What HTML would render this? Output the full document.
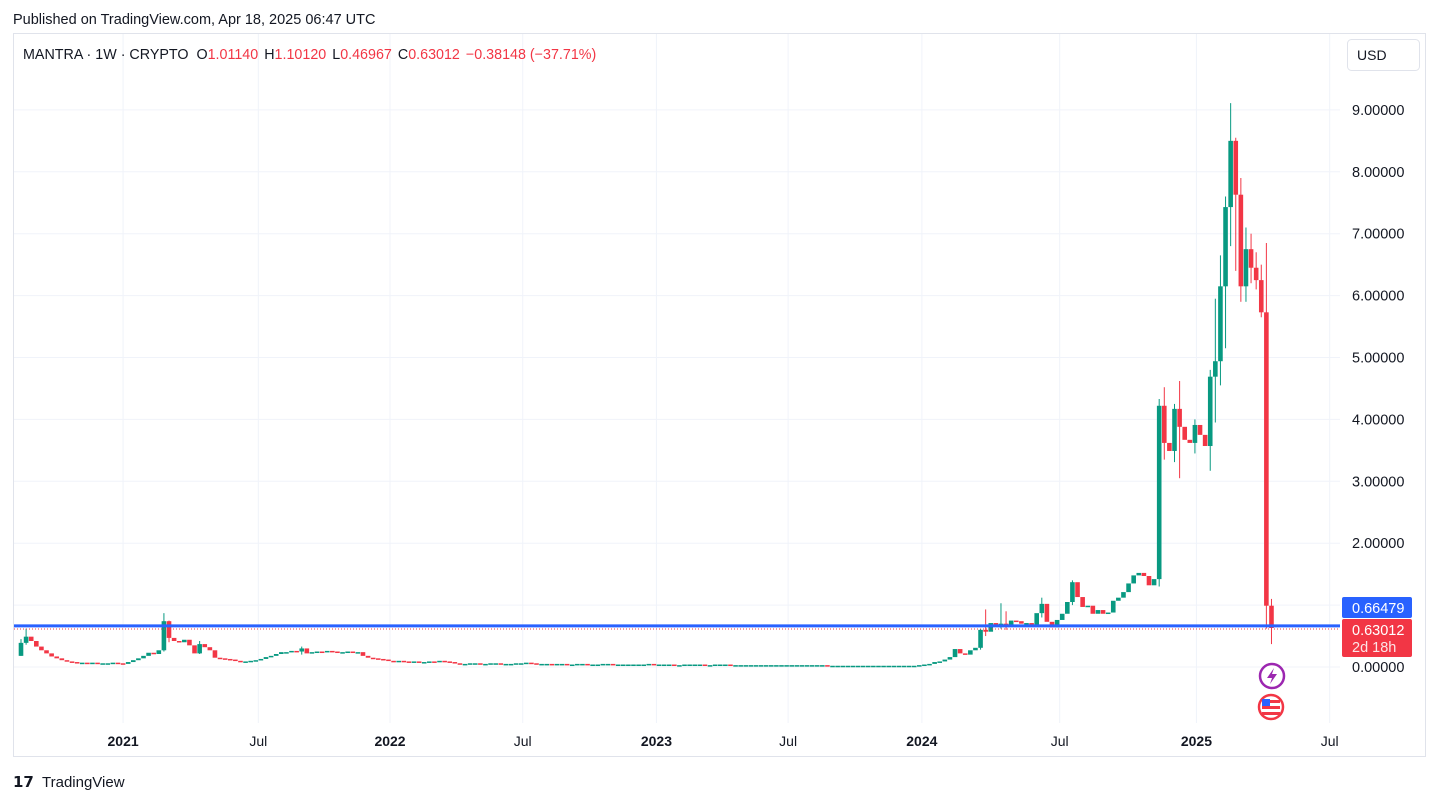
<!DOCTYPE html>
<html><head><meta charset="utf-8">
<style>
html,body{margin:0;padding:0;background:#fff;width:1439px;height:802px;overflow:hidden;font-family:"Liberation Sans",sans-serif;}
svg{position:absolute;left:0;top:0;}
</style></head>
<body>
<svg id="chart" width="1439" height="802" xmlns="http://www.w3.org/2000/svg">
<text x="13" y="24" font-size="14.5" fill="#131722">Published on TradingView.com, Apr 18, 2025 06:47 UTC</text>
<rect x="13.5" y="33.5" width="1412" height="723" fill="none" stroke="#e0e3eb"/>
<g id="grid"></g>
<g id="candles"></g>
<g id="lines"></g>
<g id="axes"></g>
<text x="23" y="59" font-size="14.3" fill="#131722">MANTRA · 1W · CRYPTO <tspan dx="4">O</tspan><tspan fill="#F23645">1.01140</tspan><tspan dx="6">H</tspan><tspan fill="#F23645">1.10120</tspan><tspan dx="6">L</tspan><tspan fill="#F23645">0.46967</tspan><tspan dx="6">C</tspan><tspan fill="#F23645">0.63012</tspan><tspan dx="6" fill="#F23645">−0.38148 (−37.71%)</tspan></text>
<rect x="1347.5" y="39.5" width="72" height="31" rx="4" fill="#fff" stroke="#e0e3eb"/>
<text x="1357" y="60" font-size="14" fill="#131722">USD</text>
<g><circle cx="1272" cy="676" r="12" fill="#fff" stroke="#9c27b0" stroke-width="2.5"/><path d="M1274 668 L1267 678 L1272 678 L1270 684 L1277 674 L1272 674 Z" fill="#9c27b0"/></g>
<g><circle cx="1271" cy="707" r="12" fill="#fff" stroke="#F23645" stroke-width="2.5"/><rect x="1262" y="700" width="18" height="3" fill="#F23645"/><rect x="1262" y="706" width="18" height="3" fill="#F23645"/><rect x="1262" y="712" width="18" height="3" fill="#F23645"/><rect x="1262" y="699" width="8" height="7" fill="#2962FF"/></g>
<text x="13" y="787" font-size="15" font-weight="bold" fill="#131722">𝟭𝟳</text>
<text x="42" y="787" font-size="15" fill="#131722">TradingView</text>
</svg>
<script>
const firstOpen = 0.18;
const closes = [0.39,0.49,0.42,0.33,0.27,0.22,0.17,0.14,0.11,0.09,0.08,0.07,0.07,0.06,0.07,0.06,0.06,0.06,0.07,0.06,
0.05,0.08,0.11,0.14,0.18,0.23,0.21,0.27,0.74,0.47,0.42,0.40,0.44,0.35,0.22,0.37,0.32,0.27,0.15,0.14,
0.13,0.12,0.10,0.09,0.09,0.10,0.11,0.13,0.16,0.18,0.21,0.24,0.24,0.26,0.25,0.30,0.22,0.24,0.25,0.24,
0.26,0.25,0.24,0.24,0.25,0.24,0.24,0.18,0.15,0.14,0.13,0.12,0.10,0.09,0.10,0.09,0.08,0.09,0.08,0.08,
0.09,0.08,0.10,0.09,0.08,0.06,0.05,0.05,0.06,0.06,0.05,0.05,0.06,0.06,0.05,0.05,0.05,0.06,0.06,0.07,
0.06,0.05,0.05,0.05,0.04,0.05,0.05,0.04,0.04,0.05,0.05,0.04,0.04,0.04,0.05,0.05,0.04,0.04,0.04,0.04,
0.04,0.04,0.04,0.05,0.04,0.04,0.04,0.04,0.03,0.03,0.04,0.04,0.04,0.04,0.03,0.03,0.04,0.04,0.04,0.03,
0.03,0.03,0.03,0.03,0.03,0.03,0.03,0.03,0.03,0.03,0.03,0.03,0.03,0.03,0.03,0.03,0.03,0.03,0.02,0.02,
0.02,0.02,0.02,0.02,0.02,0.02,0.02,0.02,0.02,0.02,0.02,0.02,0.02,0.02,0.02,0.02,0.03,0.04,0.05,0.08,
0.09,0.12,0.16,0.29,0.22,0.20,0.27,0.31,0.60,0.57,0.71,0.70,0.70,0.65,0.75,0.74,0.70,0.71,0.68,0.87,
1.02,0.73,0.64,0.76,0.86,1.05,1.37,1.13,0.97,0.99,0.86,0.92,0.86,0.88,1.07,1.12,1.21,1.35,1.48,1.52,
1.47,1.32,1.42,4.22,3.62,3.49,4.17,3.88,3.67,3.62,3.91,3.75,3.57,4.69,4.94,6.15,7.43,8.50,7.63,6.15,
6.75,6.45,6.25,5.73,0.99,0.63];
const wickIdx = [0,1,28,29,35,55,188,189,192,193,200,206,223,224,226,227,230,233,234,235,236,237,238,239,240,241,242,243,244,245];
const wickHi  = [0.45,0.62,0.87,0.75,0.42,0.33,0.62,0.93,1.03,0.90,1.12,1.40,4.33,4.52,4.25,4.62,4.0,4.80,5.95,6.65,7.60,9.11,8.55,7.90,7.10,7.00,6.70,6.50,6.85,1.10];
const wickLo  = [0.18,0.36,0.25,0.40,0.21,0.20,0.28,0.50,0.62,0.60,0.80,1.00,1.30,3.35,3.31,3.05,3.45,3.17,3.95,4.55,5.15,6.80,6.40,5.90,5.90,6.20,6.10,5.65,0.62,0.37];
const priceTicks = [0,1,2,3,4,5,6,7,8,9];
const timeTicks = ["2021","Jul","2022","Jul","2023","Jul","2024","Jul","2025","Jul"];
const timeTickIdx = [20,46.5,72.3,98.3,124.5,150.3,176.5,203.5,230.3,256.4];
const lastPrice = 0.63012, linePrice = 0.66479;

const NS="http://www.w3.org/2000/svg";
const yOf = v => 667 - v*61.9;
const xOf = i => 21 + i*5.104;
function mk(tag, attrs, parent){const e=document.createElementNS(NS,tag);for(const k in attrs)e.setAttribute(k,attrs[k]);parent.appendChild(e);return e;}
const grid=document.getElementById('grid'), cg=document.getElementById('candles'), lg=document.getElementById('lines'), ag=document.getElementById('axes');
const badgeTop = yOf(linePrice)-29, badgeBot = yOf(lastPrice)+30;

priceTicks.forEach(v=>{
  const y=yOf(v);
  const l=mk('line',{x1:14,x2:1340,y1:y,y2:y,stroke:'#f0f3fa','stroke-width':1},grid);
  
  
  if(y>badgeTop && y<badgeBot-20) return;
  const t=mk('text',{x:1352,y:y+5,'font-size':14.5,fill:'#131722'},ag);
  t.textContent=v.toFixed(5);
  
  
});
timeTicks.forEach((s,k)=>{
  const x=xOf(timeTickIdx[k]);
  const l=mk('line',{x1:x,x2:x,y1:34,y2:723,stroke:'#f0f3fa','stroke-width':1},grid);
  
  
  if(x<1345){
    const t=mk('text',{x:x,y:746,'font-size':14,'text-anchor':'middle',fill:'#131722','font-weight':/\d/.test(s)?'bold':'normal'},ag);
    t.textContent=s;
    
    
  }
});

closes.forEach((c,i)=>{
  const o = i===0 ? firstOpen : closes[i-1];
  const up = c>=o, col = up?'#089981':'#F23645';
  const x = xOf(i);
  const w = wickIdx.indexOf(i);
  if(w>=0){
    const wl=mk('line',{x1:x,x2:x,y1:yOf(wickHi[w]),y2:yOf(wickLo[w]),stroke:col,'stroke-width':1},cg);
    
    
  }
  const top=yOf(Math.max(o,c)), bot=yOf(Math.min(o,c));
  const r=mk('rect',{x:x-2.3,y:top,width:4.6,height:Math.max(1.5,bot-top),fill:col},cg);
  
  
});

const bl=mk('line',{x1:14,x2:1340,y1:yOf(linePrice),y2:yOf(linePrice),stroke:'#2962FF','stroke-width':3},lg);


const dl=mk('line',{x1:14,x2:1340,y1:yOf(lastPrice)+1,y2:yOf(lastPrice)+1,stroke:'#F23645','stroke-width':1,'stroke-dasharray':'1 2'},lg);



const b1=mk('rect',{x:1342,y:597,width:70,height:21,rx:2,fill:'#2962FF'},lg);


const t1=mk('text',{x:1352,y:613,'font-size':14.5,fill:'#fff'},lg);
t1.textContent=linePrice.toFixed(5);


const b2=mk('rect',{x:1342,y:619,width:70,height:38,rx:2,fill:'#F23645'},lg);


const t2=mk('text',{x:1352,y:635,'font-size':14.5,fill:'#fff'},lg);
t2.textContent=lastPrice.toFixed(5);


const t3=mk('text',{x:1352,y:652,'font-size':14.5,fill:'#fce4e6'},lg);
t3.textContent='2d 18h';


</script>
</body></html>
